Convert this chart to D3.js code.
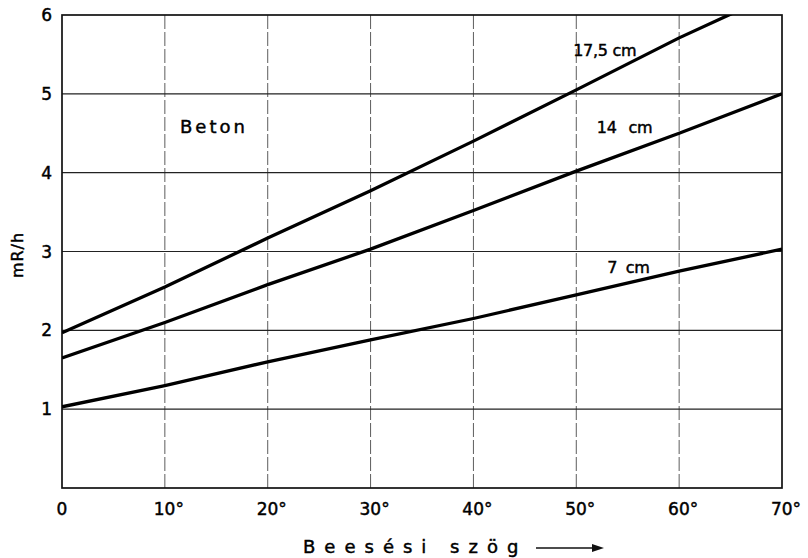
<!DOCTYPE html>
<html>
<head>
<meta charset="utf-8">
<script src="https://cdn.jsdelivr.net/npm/d3@7"></script>
<style>
body{margin:0;background:#fff;}
text{font-family:"DejaVu Sans",sans-serif;fill:#000;stroke:#000;stroke-width:0.45;}
</style>
</head>
<body>
<svg id="c" width="808" height="558"></svg>
<script>
const xTicks = [0,10,20,30,40,50,60,70];
const xTickLabels = ["0","10°","20°","30°","40°","50°","60°","70°"];
const yTicks = [1,2,3,4,5,6];
const angles = [0,10,20,30,40,50,60,70];
const s175 = [1.97,2.55,3.17,3.77,4.40,5.05,5.71,6.31];
const s14  = [1.65,2.10,2.58,3.03,3.52,4.02,4.50,5.00];
const s7   = [1.03,1.30,1.60,1.88,2.15,2.45,2.75,3.03];
const seriesNames = ["17,5 cm","14 cm","7 cm"];
const seriesLabelPos = [[49.7,5.48],[52.0,4.50],[53.0,2.73]];
const seriesWordSpacing = [0,7,4];

const svg = d3.select("#c");
const x = d3.scaleLinear().domain([0,70]).range([62,782]);
const y = d3.scaleLinear().domain([0,6]).range([488,15]);

const g = svg.append("g");
svg.append("defs").append("clipPath").attr("id","clip")
  .append("rect").attr("x",x(0)).attr("y",y(6)).attr("width",x(70)-x(0)).attr("height",y(0)-y(6));

// vertical grid
g.selectAll("line.vg").data(xTicks.slice(1,-1)).enter().append("line")
  .attr("x1",d=>x(d)).attr("x2",d=>x(d)).attr("y1",y(0)).attr("y2",y(6))
  .attr("stroke","#333").attr("stroke-width",0.8).attr("stroke-dasharray","14,3");
// horizontal grid
g.selectAll("line.hg").data(yTicks.slice(0,-1)).enter().append("line")
  .attr("x1",x(0)).attr("x2",x(70)).attr("y1",d=>y(d)).attr("y2",d=>y(d))
  .attr("stroke","#222").attr("stroke-width",1.2);
// frame
g.append("rect").attr("x",x(0)).attr("y",y(6)).attr("width",x(70)-x(0)).attr("height",y(0)-y(6))
  .attr("fill","none").attr("stroke","#111").attr("stroke-width",1.7);

// series
const line = d3.line().x((d,i)=>x(angles[i])).y(d=>y(d));
[s175,s14,s7].forEach(s=>{
  g.append("path").datum(s).attr("d",line).attr("fill","none")
   .attr("stroke","#000").attr("stroke-width",3.3).attr("clip-path","url(#clip)");
});

// series labels
seriesNames.forEach((n,i)=>{
  g.append("text").attr("x",x(seriesLabelPos[i][0])).attr("y",y(seriesLabelPos[i][1]))
   .attr("font-size",16).attr("letter-spacing",-0.3).attr("word-spacing",seriesWordSpacing[i]).text(n);
});
g.append("text").attr("x",180).attr("y",133).attr("font-size",18).attr("letter-spacing",3).text("Beton");

// y tick labels
g.selectAll("text.yt").data(yTicks).enter().append("text")
  .attr("x",52).attr("y",d=>y(d)+6).attr("text-anchor","end").attr("font-size",17).text(d=>d);
// x tick labels
xTicks.forEach((d,i)=>{
  g.append("text").attr("x",x(d)+(i===0?0:4)).attr("y",515).attr("text-anchor","middle")
   .attr("font-size",17).text(xTickLabels[i]);
});
// axis titles
g.append("text").attr("transform","translate(23,255) rotate(-90)").attr("text-anchor","middle")
  .attr("font-size",16).attr("letter-spacing",1).text("mR/h");
g.append("text").attr("x",303).attr("y",553).attr("font-size",18).attr("letter-spacing",9).text("Beesési szög");
g.append("line").attr("x1",536).attr("x2",596).attr("y1",548).attr("y2",548).attr("stroke","#111").attr("stroke-width",1.6);
g.append("path").attr("d","M592,544 L604,548 L592,552 Z").attr("fill","#111");
</script>
</body>
</html>
